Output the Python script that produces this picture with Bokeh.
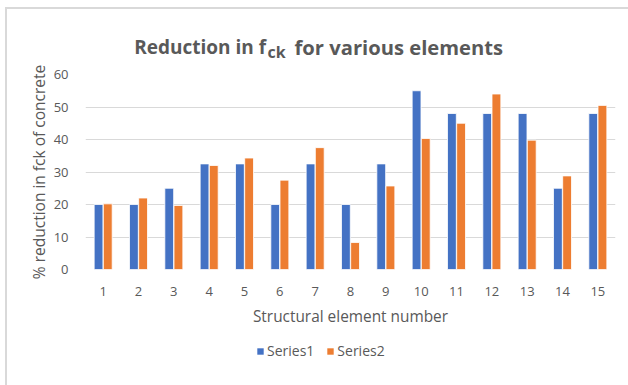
from bokeh.plotting import figure
from bokeh.layouts import column
from bokeh.models import (ColumnDataSource, Range1d, FixedTicker, Legend, LegendItem)
from bokeh.core.properties import value
from bokeh.embed import file_html
from bokeh.resources import INLINE

elements = list(range(1, 16))
tick_labels = [str(e) for e in elements]
series1 = [20, 20, 25, 32.5, 32.5, 20, 32.5, 20, 32.5, 55, 48, 48, 48, 25, 48]
series2 = [20.2, 22, 19.7, 32, 34.3, 27.5, 37.5, 8.3, 25.7, 40.3, 45, 54, 39.8, 28.8, 50.5]
series_names = ["Series1", "Series2"]
y_ticks = [0, 10, 20, 30, 40, 50, 60]

BLUE = "#4472C4"
ORANGE = "#ED7D31"
TXT = "#595959"
FONT = "Open Sans"

W = 628
TH = 64             # title strip height
LH = 50             # legend strip height
MH = 385 - TH - LH  # main chart height
FL, FR, FT, FB = 85, 615, 10, 205   # main frame edges inside the main figure


def strip(height, xr, yr):
    f = figure(width=W, height=height, output_backend="svg", toolbar_location=None,
               x_range=xr, y_range=yr, x_axis_type=None, y_axis_type=None,
               min_border_left=0, min_border_right=0,
               min_border_top=0, min_border_bottom=0)
    f.frame_align = False
    f.outline_line_color = None
    f.background_fill_alpha = 0
    f.border_fill_alpha = 0
    f.grid.grid_line_color = None
    return f


# ---------- title strip ----------
t = strip(TH, Range1d(0, W), Range1d(TH, 0))
t.text(x=[265.5], y=[46.5], text=["Reduction in f"], text_align="right",
       text_baseline="alphabetic", text_font=value(FONT), text_font_style="bold",
       text_font_size="19px", text_color=TXT)
t.text(x=[267], y=[51], text=["ck"], text_align="left",
       text_baseline="alphabetic", text_font=value(FONT), text_font_style="bold",
       text_font_size="16px", text_color=TXT)
t.text(x=[294], y=[46.5], text=["for various elements"], text_align="left",
       text_baseline="alphabetic", text_font=value(FONT), text_font_style="bold",
       text_font_size="20.2px", text_color=TXT)

# ---------- main chart ----------
p = figure(width=W, height=MH, output_backend="svg", toolbar_location=None,
           x_range=Range1d(0.5, 15.5), y_range=Range1d(0, 60),
           min_border_left=FL, min_border_right=W - FR,
           min_border_top=FT, min_border_bottom=MH - FB)
p.frame_align = False
p.outline_line_color = None
p.background_fill_color = "white"
p.border_fill_alpha = 0

off = 0.13
bw = 0.25
src = ColumnDataSource(dict(
    x1=[e - off for e in elements], x2=[e + off for e in elements],
    s1=series1, s2=series2))
p.vbar(x="x1", top="s1", width=bw, source=src, fill_color=BLUE,
       line_color="white", line_width=0.8)
p.vbar(x="x2", top="s2", width=bw, source=src, fill_color=ORANGE,
       line_color="white", line_width=0.8)

p.xgrid.grid_line_color = None
p.ygrid.grid_line_color = "#d9d9d9"
p.ygrid.grid_line_width = 1.2
p.ygrid.ticker = FixedTicker(ticks=y_ticks)

p.yaxis.ticker = FixedTicker(ticks=y_ticks)
p.xaxis.ticker = FixedTicker(ticks=elements)
p.xaxis.major_label_overrides = {e: s for e, s in zip(elements, tick_labels)}
for ax in (p.xaxis[0], p.yaxis[0]):
    ax.axis_line_color = None
    ax.major_tick_line_color = None
    ax.minor_tick_line_color = None
    ax.major_label_text_color = TXT
    ax.major_label_text_font = FONT
    ax.major_label_text_font_size = "13px"
    ax.axis_label_text_color = TXT
    ax.axis_label_text_font = FONT
    ax.axis_label_text_font_style = "normal"
p.yaxis.major_label_standoff = 11
p.xaxis.major_label_standoff = 11
p.yaxis.axis_label = "% reduction in fck of concrete"
p.yaxis.axis_label_text_font_size = "15.5px"
p.yaxis.axis_label_standoff = 1
p.xaxis.axis_label = "Structural element number"
p.xaxis.axis_label_text_font_size = "15.4px"
p.xaxis.axis_label_standoff = 7

# ---------- legend strip ----------
# the strip's x range lies away from the data, so its bar renderers only feed the legend keys
lg = strip(LH, Range1d(-2000, -2000 + W), Range1d(0, LH))
k1 = lg.vbar(x="x1", top="s1", width=bw, source=src, fill_color=BLUE, line_color=None)
k2 = lg.vbar(x="x2", top="s2", width=bw, source=src, fill_color=ORANGE, line_color=None)
legend = Legend(items=[LegendItem(label=series_names[0], renderers=[k1]),
                       LegendItem(label=series_names[1], renderers=[k2])],
                orientation="horizontal", location=(256, LH - 25),
                glyph_width=8, glyph_height=8, label_standoff=3, spacing=12,
                padding=0, margin=0, border_line_color=None,
                background_fill_alpha=0,
                label_text_font=FONT, label_text_font_size="14px",
                label_text_color=TXT, label_height=16)
lg.add_layout(legend, "center")

page = column(t, p, lg, spacing=0, styles={
    "background": ("linear-gradient(#d9d9d9, #d9d9d9) 6px 7px / 640px 2px no-repeat, "
                   "linear-gradient(#d9d9d9, #d9d9d9) 5px 7px / 2px 400px no-repeat, white")})

open("out.html", "w").write(file_html(page, INLINE))
